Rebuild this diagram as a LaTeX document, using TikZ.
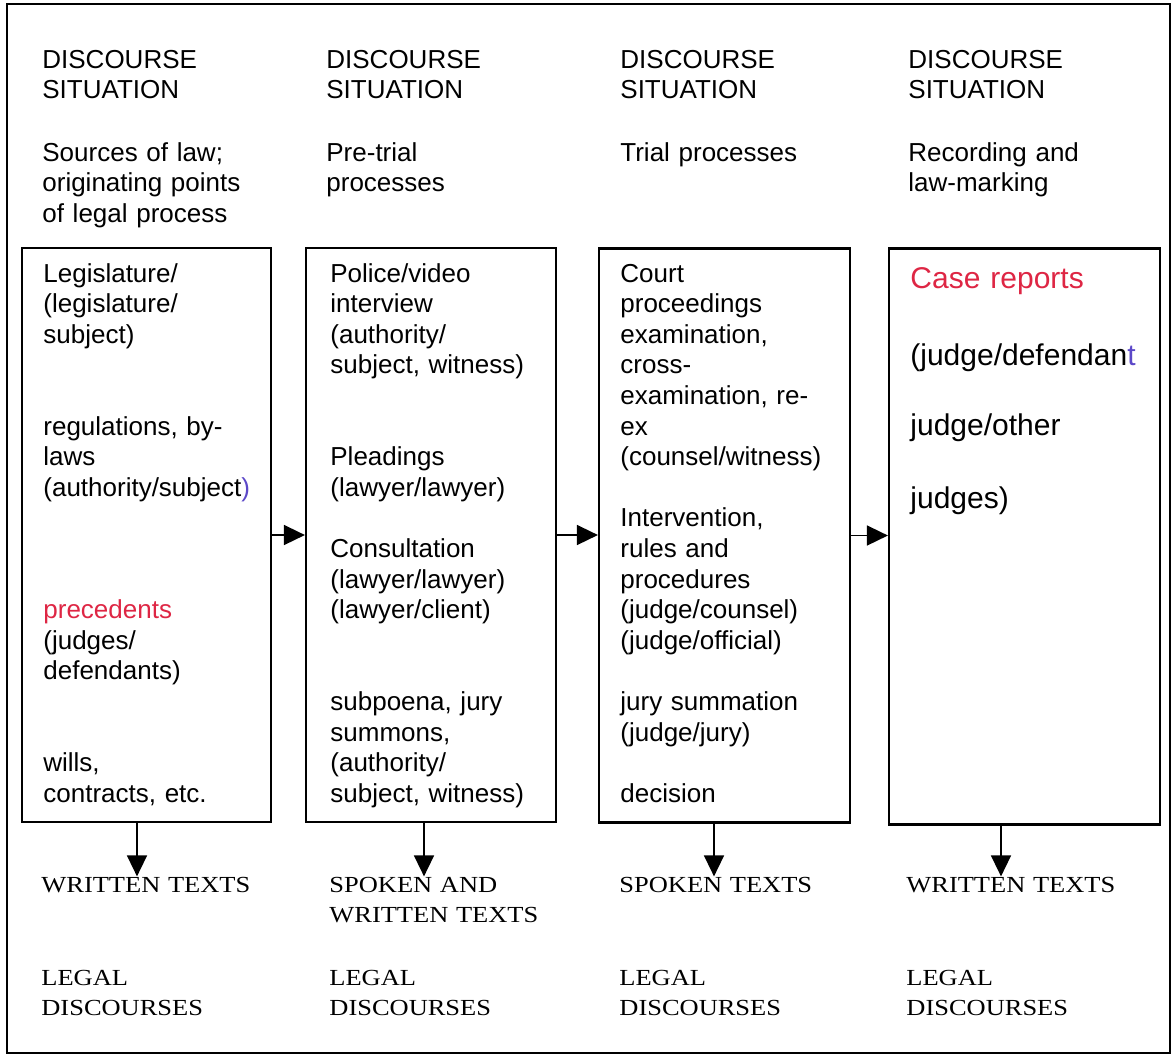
\documentclass[tikz,border=0pt]{standalone}
\usepackage{fontspec}
\setmainfont{Liberation Sans}
\newfontfamily\outfont[FakeStretch=1.15]{Liberation Serif}
\usetikzlibrary{arrows.meta}
\definecolor{markred}{RGB}{222,38,68}
\definecolor{penblue}{RGB}{92,72,200}
\tikzset{
  txt/.style={anchor=base west,inner sep=0pt,align=left,text width=135pt,font=\fontsize{13}{15.3}\selectfont},
  bigtxt/.style={txt,font=\fontsize{15}{18}\selectfont},
  outtxt/.style={txt,font=\outfont\fontsize{11.5}{15.3}\selectfont},
  stage/.style={draw,line width=1.1pt,inner sep=0pt,minimum height=287pt},
  flow/.style={line width=0.8pt,-{Triangle[length=10.5pt,width=10pt]}}
}
\begin{document}
\begin{tikzpicture}[x=0.5pt,y=-0.5pt]
\useasboundingbox (0,0) rectangle (1172,1056);
\draw[line width=1.1pt] (7,4) rectangle (1170,1053);
\node[txt] (h1) at (42,68) {DISCOURSE\\SITUATION};
\node[txt] (h2) at (326,68) {DISCOURSE\\SITUATION};
\node[txt] (h3) at (620,68) {DISCOURSE\\SITUATION};
\node[txt] (h4) at (908,68) {DISCOURSE\\SITUATION};
\node[txt] (s1) at (42,161) {Sources of law;\\originating points\\of legal process};
\node[txt] (s2) at (326,161) {Pre-trial\\processes};
\node[txt] (s3) at (620,161) {Trial processes};
\node[txt] (s4) at (908,161) {Recording and\\law-marking};
\node[stage,minimum width=124.5pt] (b1) at (146.5,535) {};
\node[stage,minimum width=125pt] (b2) at (431,535) {};
\node[stage,minimum width=125.5pt] (b3) at (724.5,535.5) {};
\node[stage,minimum width=135.5pt,minimum height=288pt] (b4) at (1024.5,536.5) {};
\node[txt] (l1a) at (43,282) {Legislature/\\(legislature/\\subject)};
\node[txt] (l1b) at (43,435) {regulations, by-\\laws\\(authority/subject{\color{penblue})}};
\node[txt] (l1c) at (43,618.6) {{\color{markred}precedents}\\(judges/\\defendants)};
\node[txt] (l1d) at (43,771.6) {wills,\\contracts, etc.};
\node[txt] (l2a) at (330,282) {Police/video\\interview\\(authority/\\subject, witness)};
\node[txt] (l2b) at (330,465.6) {Pleadings\\(lawyer/lawyer)};
\node[txt] (l2c) at (330,557.4) {Consultation\\(lawyer/lawyer)\\(lawyer/client)};
\node[txt] (l2d) at (330,710.4) {subpoena, jury\\summons,\\(authority/\\subject, witness)};
\node[txt] (l3a) at (620,282) {Court\\proceedings\\examination,\\cross-\\examination, re-\\ex\\(counsel/witness)};
\node[txt] (l3b) at (620,526.8) {Intervention,\\rules and\\procedures\\(judge/counsel)\\(judge/official)};
\node[txt] (l3c) at (620,710.4) {jury summation\\(judge/jury)};
\node[txt] (l3d) at (620,802.2) {decision};
\node[bigtxt,text=markred] (l4a) at (910,288) {Case reports};
\node[bigtxt] (l4b) at (910,365) {(judge/defendan{\color{penblue}t}};
\node[bigtxt] (l4c) at (910,435) {judge/other};
\node[bigtxt] (l4d) at (910,508) {judges)};
\node[outtxt] (o1) at (41,892) {WRITTEN TEXTS};
\node[outtxt] (o2) at (329,892) {SPOKEN AND\\WRITTEN TEXTS};
\node[outtxt] (o3) at (619,892) {SPOKEN TEXTS};
\node[outtxt] (o4) at (906,892) {WRITTEN TEXTS};
\node[outtxt] (d1) at (41,985) {LEGAL\\DISCOURSES};
\node[outtxt] (d2) at (329,985) {LEGAL\\DISCOURSES};
\node[outtxt] (d3) at (619,985) {LEGAL\\DISCOURSES};
\node[outtxt] (d4) at (906,985) {LEGAL\\DISCOURSES};
\draw[flow] (b1.east) -- (b2.west);
\draw[flow] (b2.east) -- (b2.east -| b3.west);
\draw[flow] (b3.east) -- (b3.east -| b4.west);
\draw[flow] ([xshift=-4.75pt]b1.south) -- ([xshift=-4.75pt]b1.south |- o1.north);
\draw[flow] ([xshift=-3.5pt]b2.south) -- ([xshift=-3.5pt]b2.south |- o2.north);
\draw[flow] ([xshift=-5.25pt]b3.south) -- ([xshift=-5.25pt]b3.south |- o3.north);
\draw[flow] ([xshift=-11.75pt]b4.south) -- ([xshift=-11.75pt]b4.south |- o4.north);
\end{tikzpicture}
\end{document}
